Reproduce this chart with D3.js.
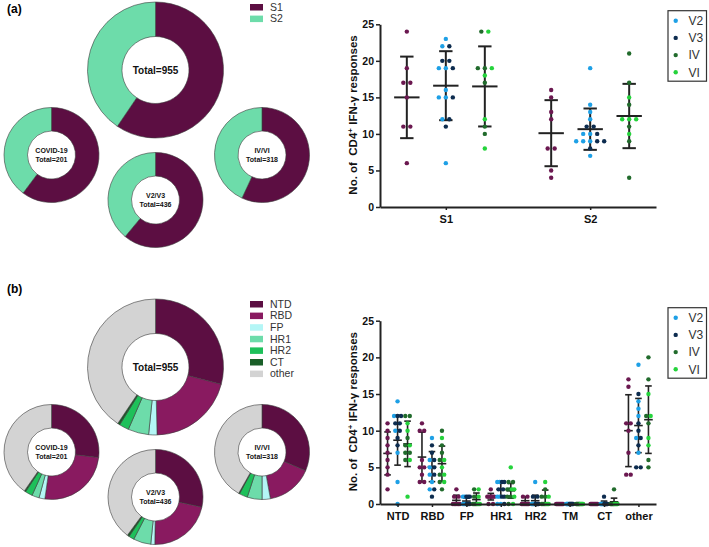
<!DOCTYPE html>
<html><head><meta charset="utf-8">
<script src="https://cdn.jsdelivr.net/npm/d3@7"></script>
<style>
body{margin:0;background:#fff}
svg{display:block;font-family:Arial,"Liberation Sans",sans-serif}
</style>
</head><body>
<svg id="c" width="709" height="547"></svg>
<script>
// ---------------- DATA ----------------
const groups = ["COVID-19", "V2/V3", "IV/VI"];
const legendNames = ["V2", "V3", "IV", "VI"];

// Panel (a) donuts: S1, S2 counts
const aDonutCats = ["S1", "S2"];
const aDonutCovid = [121, 80];
const aDonutV2V3 = [266, 170];
const aDonutIVVI = [181, 137];

// Panel (b) donuts
const bDonutCats = ["NTD", "RBD", "FP", "HR1", "HR2", "CT", "other"];
const bDonutCovid = [54, 51, 4, 5, 5, 1, 81];
const bDonutV2V3 = [124, 95, 6, 26, 8, 3, 174];
const bDonutIVVI = [100, 50, 9, 16, 9, 1, 133];

// Panel (a) scatter
const aCats = ["S1", "S2"];
const yTicks = [0, 5, 10, 15, 20, 25];
const aCovid = [[24, 19, 17, 17, 15, 11, 11, 6], [16, 15, 13, 12, 8, 8, 5, 4]];
const aV2 = [[23, 22, 19, 19, 16, 15, 15, 12, 6], [19, 14, 13, 12, 10, 10, 9, 9, 9, 7]];
const aV3 = [[22, 20, 20, 19, 15, 12, 11], [11, 11, 10, 9, 9, 8]];
const aIV = [[24, 19, 19, 17, 11, 10], [21, 17, 14, 11, 9, 4]];
const aVI = [[24, 19, 18, 12, 8], [15, 12, 12, 12, 10]];
const aMean = [[15, 16.6, 16.5], [10.1, 10.65, 12.45]];
const aSD = [[5.58, 4.72, 5.48], [4.52, 2.83, 4.4]];

// Panel (b) scatter
const bCats = ["NTD", "RBD", "FP", "HR1", "HR2", "TM", "CT", "other"];
const bCovid = [
  [11, 10, 9, 8, 7, 6, 5, 4, 2],
  [11, 10, 10, 6, 5, 5, 4, 3, 3],
  [2, 1, 1, 0, 0, 0, 0, 0, 0],
  [2, 1, 1, 1, 1, 1, 1, 0, 0],
  [1, 1, 0, 0, 0, 0, 0, 0, 0],
  [0, 0, 0, 0, 0, 0, 0, 0, 0],
  [0, 0, 0, 0, 0, 0, 0, 0, 0],
  [17, 16, 11, 11, 10, 7, 4, 4]
];
const bV2 = [
  [14, 12, 10, 7, 3, 0],
  [9, 6, 5, 4, 3, 2],
  [1, 1, 0, 0, 0, 0],
  [3, 3, 1, 1, 0, 0],
  [3, 0, 0, 0, 0, 0],
  [0, 0, 0, 0, 0, 0],
  [0, 0, 0, 0, 0, 0],
  [19, 14, 13, 12, 9, 7]
];
const bV3 = [
  [12, 12, 11, 11, 10, 9, 8],
  [8, 7, 6, 5, 4, 2, 1],
  [1, 1, 1, 0, 0, 0, 0],
  [3, 3, 2, 2, 1, 1, 0],
  [1, 1, 0, 0, 0, 0, 0],
  [0, 0, 0, 0, 0, 0, 0],
  [1, 0, 0, 0, 0, 0, 0],
  [15, 11, 10, 9, 8, 5, 5]
];
const bIV = [
  [12, 12, 9, 8, 7, 7, 6],
  [10, 8, 7, 6, 4, 3, 2],
  [2, 1, 0, 0, 0, 0, 0],
  [3, 3, 2, 2, 1, 1, 0],
  [2, 1, 1, 0, 0, 0, 0],
  [0, 0, 0, 0, 0, 0, 0],
  [2, 0, 0, 0, 0, 0, 0],
  [20, 17, 12, 11, 6, 5]
];
const bVI = [
  [11, 10, 8, 6, 1],
  [9, 6, 5, 4, 3],
  [2, 1, 0, 0, 0],
  [5, 2, 2, 1, 0],
  [3, 1, 0, 0, 0],
  [0, 0, 0, 0, 0],
  [0, 0, 0, 0, 0],
  [15, 12, 9, 8]
];
const bMean = [[6.9, 8.7, 8.2], [6.4, 5.1, 5.5], [0.5, 0.4, 0.6], [1.0, 2.0, 1.8],
               [0.45, 0.45, 1.0], [0, 0, 0], [0, 0.1, 0.3], [10, 10.7, 11.5]];
const bSD = [[2.93, 3.4, 3.1], [3.4, 2.05, 2.4], [0.7, 0.4, 0.9], [0.45, 1.0, 1.0],
             [0.55, 0.75, 0.9], [0, 0, 0], [0, 0.3, 0.5], [4.9, 3.7, 4.6]];

// ---------------- STYLE ----------------
const donutColorsA = ["#5c0e42", "#6ddcaa"];
const donutColorsB = ["#5c0e42", "#891a60", "#b4f6f6", "#6ddcaa", "#1ec05a", "#1a5f28", "#d3d3d3"];
const cCovid = "#6b1850", cV2 = "#1ea0e6", cV3 = "#0d2c4f", cIV = "#216b2c", cVI = "#25d33c";
const legendColors = [cV2, cV3, cIV, cVI];

const svg = d3.select("#c");

// ---------------- DONUTS ----------------
function donut(cx, cy, ro, ri, values, colors, lines, fs) {
  const g = svg.append("g").attr("transform", `translate(${cx},${cy})`);
  const pie = d3.pie().sort(null).value(d => d)(values);
  const arc = d3.arc().outerRadius(ro).innerRadius(ri);
  g.selectAll("path").data(pie).join("path")
    .attr("d", arc).attr("fill", (d, i) => colors[i])
    .attr("stroke", "#3a3a3a").attr("stroke-width", 0.6);
  const t = g.append("text").attr("text-anchor", "middle")
    .attr("font-weight", "bold").attr("font-size", fs).attr("fill", "#111");
  const n = lines.length;
  lines.forEach((l, i) => {
    t.append("tspan").attr("x", 0)
      .attr("y", (i - (n - 1) / 2) * fs * 1.2 + fs * 0.35).text(l);
  });
}
function sumArr(a) { return d3.sum(a); }

function donutPanel(yOff, cats, covid, v2v3, ivvi, colors) {
  const total = covid.map((d, i) => d + v2v3[i] + ivvi[i]);
  donut(155.5, yOff + 70, 68, 33.5, total, colors, ["Total=" + sumArr(total)], 10);
  donut(51.5, yOff + 155, 47.5, 24, covid, colors, ["COVID-19", "Total=" + sumArr(covid)], 7);
  donut(155.5, yOff + 200, 47.5, 24, v2v3, colors, ["V2/V3", "Total=" + sumArr(v2v3)], 7);
  donut(262, yOff + 155, 47.5, 24, ivvi, colors, ["IV/VI", "Total=" + sumArr(ivvi)], 7);
  // legend
  const lg = svg.append("g");
  cats.forEach((c, i) => {
    const yy = yOff + 7 + i * 11.6;
    lg.append("rect").attr("x", 250).attr("y", yy - 3).attr("width", 13).attr("height", 6.5)
      .attr("fill", colors[i]);
    lg.append("text").attr("x", 270).attr("y", yy + 3.8).attr("font-size", 10.5)
      .attr("fill", "#333").text(c);
  });
}
donutPanel(0, aDonutCats, aDonutCovid, aDonutV2V3, aDonutIVVI, donutColorsA);
donutPanel(297, bDonutCats, bDonutCovid, bDonutV2V3, bDonutIVVI, donutColorsB);

svg.append("text").attr("x", 7).attr("y", 13).attr("font-size", 12).attr("font-weight", "bold").text("(a)");
svg.append("text").attr("x", 7).attr("y", 293).attr("font-size", 12).attr("font-weight", "bold").text("(b)");

// ---------------- SCATTER ----------------
function scatter(o) {
  const g = svg.append("g");
  const x = d3.scalePoint().domain(o.cats).range([380, 656]).padding(o.pad);
  const y = d3.scaleLinear().domain([0, 25]).range([o.y0, o.y25]);
  const gx = i => o.offsets[i];

  // error bars
  o.cats.forEach((c, ci) => {
    groups.forEach((gn, gi) => {
      const cx = x(c) + gx(gi);
      const m = o.mean[ci][gi], s = o.sd[ci][gi];
      const lo = Math.max(0, m - s), hi = m + s;
      const bg = g.append("g").attr("stroke", "#222").attr("stroke-width", o.sw).attr("fill", "none");
      bg.append("line").attr("x1", cx).attr("x2", cx).attr("y1", y(lo)).attr("y2", y(hi));
      bg.append("line").attr("x1", cx - o.capHW).attr("x2", cx + o.capHW).attr("y1", y(hi)).attr("y2", y(hi));
      if (m - s > 0) bg.append("line").attr("x1", cx - o.capHW).attr("x2", cx + o.capHW).attr("y1", y(lo)).attr("y2", y(lo));
      bg.append("line").attr("x1", cx - o.meanHW).attr("x2", cx + o.meanHW).attr("y1", y(m)).attr("y2", y(m));
    });
  });

  // points (beeswarm by equal value)
  o.cats.forEach((c, ci) => {
    groups.forEach((gn, gi) => {
      const pts = [];
      o.series.filter(s => s.g === gi).forEach(s => s.data[ci].forEach(v => pts.push({ v, color: s.color })));
      const rows = d3.group(pts, d => d.v);
      rows.forEach(row => {
        const k = row.length;
        const sp = k > 1 ? Math.min(o.spacing, o.maxW / (k - 1)) : 0;
        row.forEach((p, i) => {
          g.append("circle").attr("cx", x(c) + gx(gi) + (i - (k - 1) / 2) * sp)
            .attr("cy", y(p.v)).attr("r", 2.2).attr("fill", p.color);
        });
      });
    });
  });

  // axes
  const ay = g.append("g").attr("transform", "translate(380,0)")
    .call(d3.axisLeft(y).tickValues(yTicks).tickSize(4).tickSizeOuter(0).tickPadding(2));
  ay.select(".domain").attr("stroke", "#222").attr("stroke-width", 2);
  ay.selectAll(".tick line").attr("stroke", "#222").attr("stroke-width", 1.5);
  ay.selectAll("text").attr("font-size", 10.5).attr("font-weight", "bold").attr("fill", "#111")
    .attr("font-family", "Arial, 'Liberation Sans', sans-serif");
  const ax = g.append("g").attr("transform", `translate(0,${o.y0})`)
    .call(d3.axisBottom(x).tickSize(3).tickSizeOuter(0).tickPadding(5));
  ax.select(".domain").attr("stroke", "#222").attr("stroke-width", 2);
  ax.selectAll(".tick line").attr("stroke", "#222").attr("stroke-width", 1.5);
  ax.selectAll("text").attr("font-size", 11).attr("font-weight", "bold").attr("fill", "#111")
    .attr("font-family", "Arial, 'Liberation Sans', sans-serif");

  // y title
  const t = g.append("text").attr("transform", `translate(357,${o.titleY}) rotate(-90)`)
    .attr("text-anchor", "middle").attr("font-size", 11.5).attr("font-weight", "bold")
    .attr("fill", "#111").style("white-space", "pre");
  t.append("tspan").text("No. of  CD4");
  t.append("tspan").attr("font-size", 8).attr("dy", -4).text("+");
  t.append("tspan").attr("dy", 4).text(" IFN-\u03b3 responses");

  // legend
  const lg = g.append("g");
  lg.append("rect").attr("x", 668).attr("y", o.legY).attr("width", 38.5).attr("height", 70.5)
    .attr("fill", "#fff").attr("stroke", "#333").attr("stroke-width", 1.2);
  legendNames.forEach((n, i) => {
    const yy = o.legY + 10 + i * 17.2;
    lg.append("circle").attr("cx", 675.7).attr("cy", yy).attr("r", 2.2).attr("fill", legendColors[i]);
    lg.append("text").attr("x", 688.5).attr("y", yy + 4.2).attr("font-size", 12).attr("fill", "#333").text(n);
  });
}

scatter({
  cats: aCats, pad: 0.456, y0: 207, y25: 24.3, offsets: [-39, 0, 39],
  mean: aMean, sd: aSD, sw: 2, capHW: 6.7, meanHW: 12.7, spacing: 7, maxW: 30,
  series: [
    { g: 0, color: cCovid, data: aCovid },
    { g: 1, color: cV2, data: aV2 }, { g: 1, color: cV3, data: aV3 },
    { g: 2, color: cIV, data: aIV }, { g: 2, color: cVI, data: aVI }
  ],
  titleY: 115, legY: 10.7
});
scatter({
  cats: bCats, pad: 0.51, y0: 504, y25: 320.7, offsets: [-10, 0, 10],
  mean: bMean, sd: bSD, sw: 1.6, capHW: 3.3, meanHW: 4.3, spacing: 4.5, maxW: 7,
  series: [
    { g: 0, color: cCovid, data: bCovid },
    { g: 1, color: cV2, data: bV2 }, { g: 1, color: cV3, data: bV3 },
    { g: 2, color: cIV, data: bIV }, { g: 2, color: cVI, data: bVI }
  ],
  titleY: 411.7, legY: 307.7
});
</script>
</body></html>
